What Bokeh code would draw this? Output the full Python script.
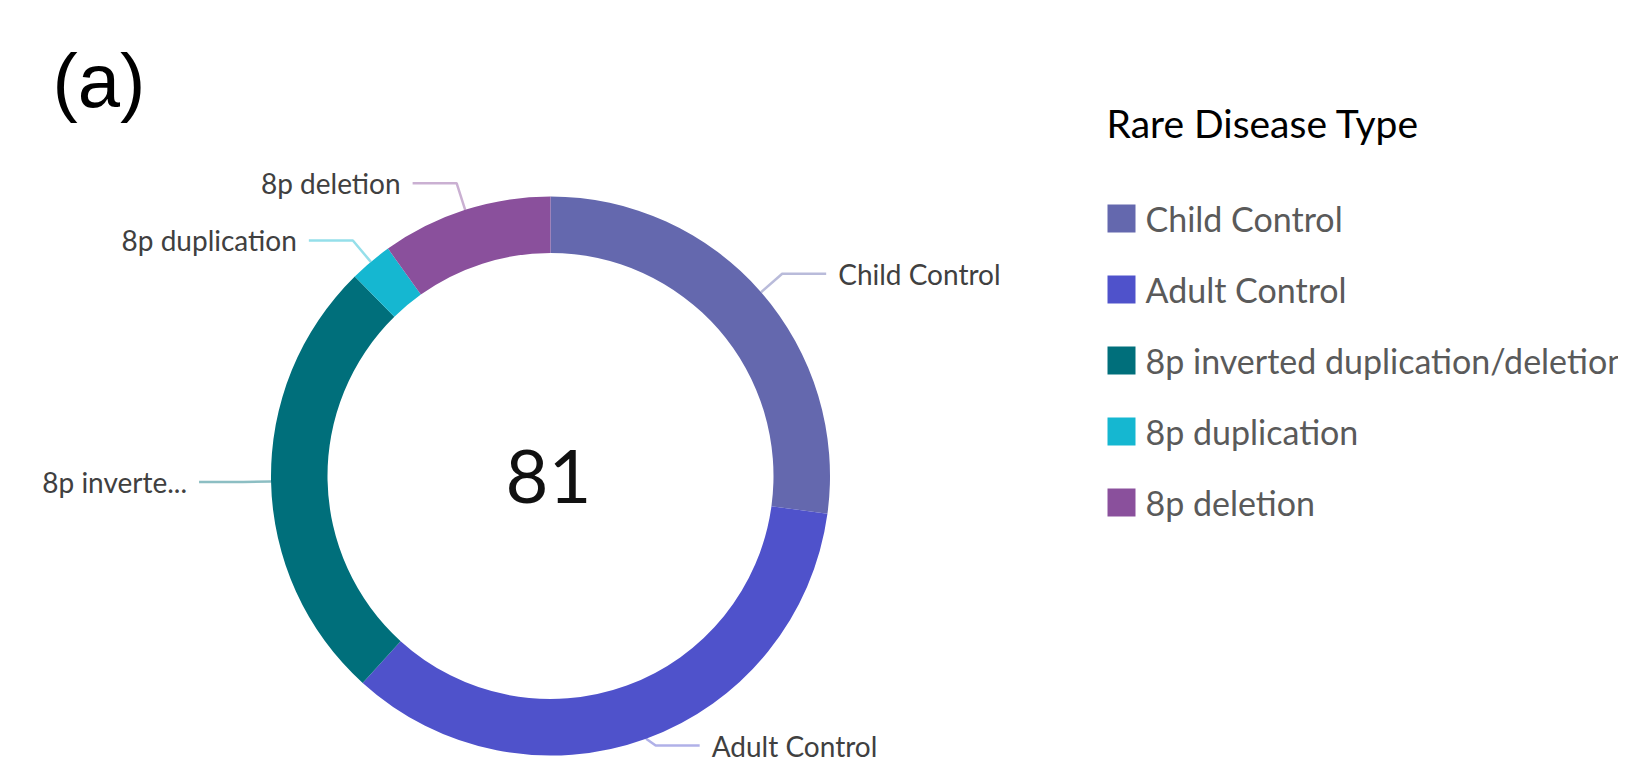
import math
from bokeh.plotting import figure
from bokeh.models import Range1d, ColumnDataSource
from bokeh.core.properties import value
from bokeh.embed import file_html
from bokeh.resources import INLINE

# ---- data ----
categories = ["Child Control", "Adult Control", "8p inverted duplication/deletion",
              "8p duplication", "8p deletion"]
counts = [22, 28, 21, 2, 8]
chart_labels = ["Child Control", "Adult Control", "8p inverte...",
                "8p duplication", "8p deletion"]
colors = ["#6468AE", "#4F52CB", "#006F7B", "#15B7D1", "#8A509C"]
legend_title = "Rare Disease Type"
panel_tag = "(a)"

# ---- layout (reference pixel coordinates; data y = H - ref_y) ----
PW, PH = 1618, 761
H = 777
def Y(ref_y):
    return H - ref_y

cx, cy = 550.0, Y(475.5)
r_in, r_out = 223.0, 279.5

p = figure(width=PW, height=PH, output_backend="svg", toolbar_location=None,
           x_range=Range1d(0, PW), y_range=Range1d(H - PH, H),
           min_border=0, x_axis_location=None, y_axis_location=None)
p.outline_line_color = None
p.xgrid.visible = False
p.ygrid.visible = False
p.background_fill_color = "white"
p.border_fill_color = "white"

total = sum(counts)
starts, ends, mids = [], [], []
acc = 0
for c in counts:
    a0 = acc / total * 2 * math.pi
    acc += c
    a1 = acc / total * 2 * math.pi
    starts.append(math.pi / 2 - a0)
    ends.append(math.pi / 2 - a1)
    mids.append((a0 + a1) / 2)

src = ColumnDataSource(dict(start=starts, end=ends, color=colors, cat=categories))
p.annular_wedge(x=cx, y=cy, inner_radius=r_in, outer_radius=r_out,
                inner_radius_units="screen", outer_radius_units="screen",
                start_angle="start", end_angle="end", direction="clock",
                fill_color="color", line_color=None, source=src)

# leader lines and labels
ext, horiz, gap = 28, 44, 12
y_floor = Y(745)  # keep the lowest label inside the page
for lab, col, m in zip(chart_labels, colors, mids):
    s, c = math.sin(m), math.cos(m)
    x0, y0 = cx + r_out * s, cy + r_out * c
    x1, y1 = x0 + ext * s, y0 + ext * c
    y1 = max(y1, y_floor)
    right = s > 0
    x2 = x1 + horiz if right else x1 - horiz
    p.line([x0, x1, x2], [y0, y1, y1], line_color=col, line_alpha=0.45, line_width=2.5)
    p.text(x=[x2 + gap if right else x2 - gap], y=[y1], text=[lab],
           text_align="left" if right else "right", text_baseline="middle",
           text_font=value("Lato"), text_font_size=value("28px"), text_color="#404040")

# center total
p.text(x=[cx - 2], y=[cy], text=[str(total)], text_align="center", text_baseline="middle",
       text_font=value("Lato"), text_font_size=value("74px"), text_color="#111111")

# panel tag
p.text(x=[52], y=[Y(80)], text=[panel_tag], text_align="left", text_baseline="middle",
       text_font=value("Liberation Sans"), text_font_size=value("76px"), text_color="black")

# legend
p.text(x=[1106], y=[Y(122)], text=[legend_title], text_align="left", text_baseline="middle",
       text_font=value("Lato"), text_font_size=value("39px"), text_color="#000000")
row0, step = 218, 71
ys = [Y(row0 + i * step) for i in range(len(categories))]
p.rect(x=[1121] * len(categories), y=ys, width=28, height=28,
       width_units="screen", height_units="screen", fill_color=colors, line_color=None)
p.text(x=[1145] * len(categories), y=ys, text=categories, text_align="left",
       text_baseline="middle", text_font=value("Lato"), text_font_size=value("34px"),
       text_color="#5A5A5A")

open("out.html", "w").write(file_html(p, INLINE))
